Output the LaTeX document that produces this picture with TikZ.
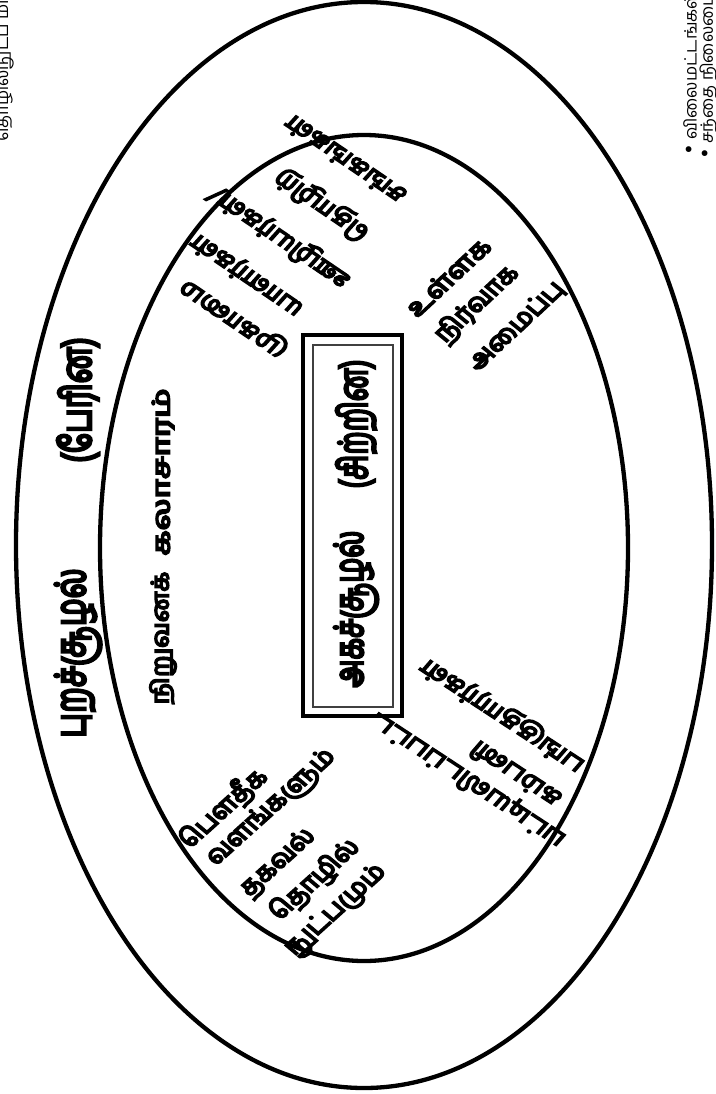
\documentclass[tikz,border=0pt]{standalone}
\usepackage{fontspec}
\newfontfamily\tam[Script=Tamil]{Hind Madurai}
\newfontfamily\tamb[Script=Tamil, FakeBold=7]{Hind Madurai}
\newfontfamily\dv{DejaVu Sans}
\begin{document}
\begin{tikzpicture}[x=1pt,y=-1pt,
  title/.style={font=\tamb\fontsize{31}{31}\selectfont, inner sep=0pt, xscale=1.35},
  big/.style={font=\tamb\fontsize{28}{28}\selectfont, inner sep=0pt, xscale=1.42},
  mid/.style={font=\tamb\fontsize{24}{24}\selectfont, inner sep=0pt},
  diag/.style={font=\tamb\fontsize{24}{24}\selectfont, inner sep=0pt, xscale=1.15},
  small/.style={font=\tam\fontsize{17}{17}\selectfont, inner sep=0pt},
  ring/.style={line width=4.3pt},
  frame/.style={draw, line width=4pt, inner sep=0pt},
  thinframe/.style={draw=black!75, line width=1.3pt, inner sep=0pt}]
\useasboundingbox (0,0) rectangle (715,1094);
\fill[white] (0,0) rectangle (715,1094);
% rings
\draw[ring] (364,545) ellipse [x radius=348, y radius=543];
\draw[ring] (364,548) ellipse [x radius=264, y radius=413];
% central box
\node (box) [frame, minimum width=99pt, minimum height=381pt] at (352.5,525.5) {};
\node (inbox) [thinframe, minimum width=80pt, minimum height=362pt] at (353,526) {};
\node (agam) [big, rotate=90] at (356,609) {அகச்சூழல்};
\node (sirr) [big, rotate=90] at (356,424) {(சிற்றின)};
% outer title
\node (puram) [title, rotate=90] at (78,653) {புறச்சூழல்};
\node (peri) [title, rotate=90] at (78,400) {(பேரின)};
% culture
\node (nir) [mid, rotate=90, xscale=1.08] at (163,638) {நிறுவனக்};
\node (kal) [mid, rotate=90, xscale=1.38] at (163,472) {கலாசாரம்};
% lower-left block
\node (p1) [diag, rotate=46] at (223,808) {பௌதீக};
\node (p2) [diag, rotate=46] at (272,808) {வளங்களும்};
\node (p3) [diag, rotate=46] at (278,863) {தகவல்};
\node (p4) [diag, rotate=46] at (315,880) {தொழில்};
\node (p5) [diag, rotate=46] at (337,911) {நுட்பமும்};
% upper-right block
\node (u1) [diag, rotate=47, xscale=1.1] at (448,277) {உள்ளக};
\node (u2) [diag, rotate=47] at (477,304) {நிர்வாக};
\node (u3) [diag, rotate=47] at (516,326) {அமைப்பு};
% upper-left block (upside down)
\node (m1) [diag, rotate=142] at (235,317) {முகாமை};
\node (m2) [diag, rotate=142] at (247,275) {யாளர்கள்};
\node (m3) [diag, rotate=142] at (280,237) {ஊழியர்கள்/};
\node (m4) [diag, rotate=142] at (322,205) {தொழிற்};
\node (m5) [diag, rotate=142] at (345,160) {சங்கங்கள்};
% lower-right block (upside down)
\node (s1) [diag, rotate=143] at (468,780) {பட்டியலிடப்பட்ட};
\node (s2) [diag, rotate=143] at (515,775) {கம்பனி};
\node (s3) [diag, rotate=143] at (503,715) {பங்குதாரர்கள்};
% outer texts cut by the page edge
\node (b1) [small, rotate=90, anchor=west] at (690,156) {{\dv\fontsize{20}{20}\selectfont •}\ விலைமட்டங்கள்};
\node (b2) [small, rotate=90, anchor=west] at (708,160) {{\dv\fontsize{20}{20}\selectfont •}\ சந்தை நிலைமை (கேள்வி)};
\node (b0) [small, rotate=90, anchor=west] at (4,142) {தொழில்நுட்ப மாற்றங்கள்};
\end{tikzpicture}
\end{document}
